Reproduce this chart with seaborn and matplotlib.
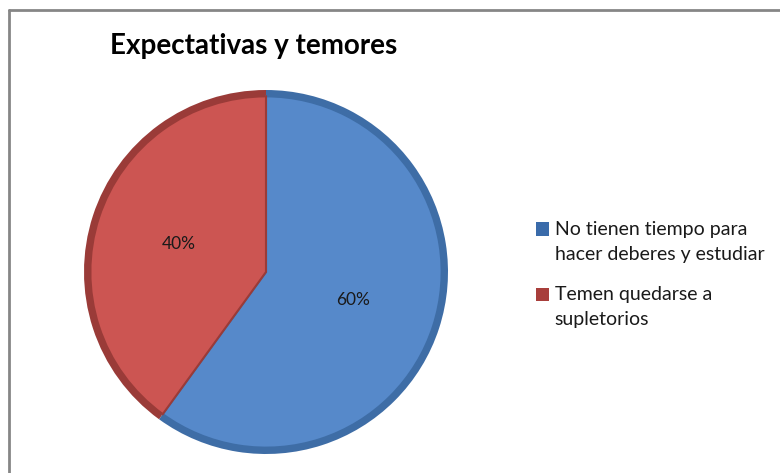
import matplotlib
matplotlib.use("Agg")
import matplotlib.pyplot as plt
import seaborn as sns
from matplotlib.lines import Line2D
from matplotlib.patches import Patch, Rectangle
from matplotlib.legend_handler import HandlerPatch

categories = ["No tienen tiempo para\nhacer deberes y estudiar", "Temen quedarse a\nsupletorios"]
values = [60, 40]
title = "Expectativas y temores"

sns.set_theme(style="white")
plt.rcParams['font.family'] = ['Lato', 'DejaVu Sans']

face = sns.color_palette(["#5689CA", "#CC5552"])
rim = sns.color_palette(["#3E6DA6", "#9A3B38"])
handle_col = sns.color_palette(["#3A6BAA", "#A83E3B"])

fig = plt.figure(figsize=(7.8, 4.73), dpi=100)
ax = fig.add_axes([84/780, 19/473, 364/780, 364/473])

# darker rim (bevel)
ax.pie(values, colors=rim, startangle=90, counterclock=False, radius=1.0,
       wedgeprops=dict(linewidth=0))
wedges, texts, autotexts = ax.pie(values, colors=face, startangle=90, counterclock=False,
                                  radius=0.965, autopct='%1.0f%%', pctdistance=0.52,
                                  textprops=dict(fontsize=12.5, color="#1a1a1a"),
                                  wedgeprops=dict(linewidth=0))
for w, c in zip(wedges, rim):
    w.set_edgecolor(c)
    w.set_linewidth(1.5)
ax.set_xlim(-1, 1)
ax.set_ylim(-1, 1)
ax.set_aspect('equal')

fig.text(110/780, 1 - 46/473, title, fontsize=20, fontweight='bold', va='center', ha='left', color='black')


def top_square(legend, orig_handle, xdescent, ydescent, width, height, fontsize):
    # align the square with the first text line
    return Rectangle((-xdescent, -ydescent + 9.3), width, height)


handles = [Patch(facecolor=c, edgecolor='none') for c in handle_col]
leg = fig.legend(handles, categories, loc='upper left', bbox_to_anchor=(536/780, 1 - 221/473),
                 frameon=False, fontsize=14, handlelength=0.67, handleheight=0.67,
                 handletextpad=0.3, labelspacing=1.2, borderaxespad=0, borderpad=0,
                 handler_map={Patch: HandlerPatch(patch_func=top_square)})
for t in leg.get_texts():
    t.set_linespacing(1.55)
    t.set_color("#1a1a1a")

# frame lines (top and left only visible)
fig.add_artist(Line2D([9/780, 9/780], [0, 1 - 10/473], color="#868686", linewidth=2, transform=fig.transFigure))
fig.add_artist(Line2D([9/780, 1], [1 - 10/473, 1 - 10/473], color="#868686", linewidth=2, transform=fig.transFigure))

fig.savefig("out.png", dpi=100)
